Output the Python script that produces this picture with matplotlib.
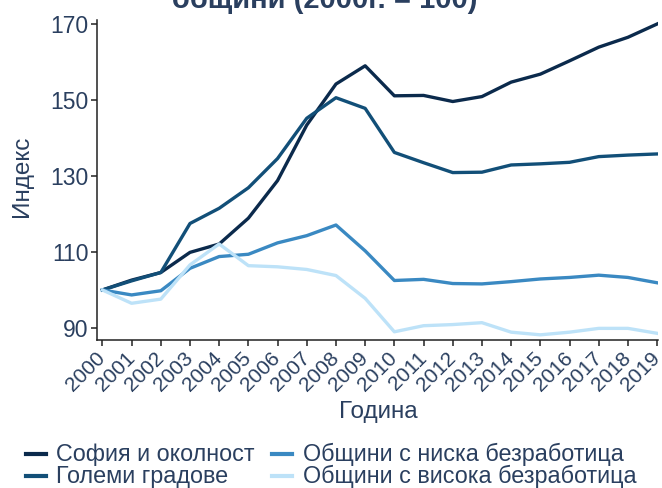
import matplotlib
matplotlib.use("Agg")
import matplotlib.pyplot as plt
from matplotlib.lines import Line2D

years = list(range(2000, 2020))
sofia = [100, 102.6, 104.6, 109.9, 112.1, 118.9, 128.8, 143.4, 154.2, 159.0,
         151.1, 151.2, 149.6, 150.9, 154.7, 156.8, 160.3, 163.9, 166.5, 170.0]
golemi = [100, 102.4, 104.6, 117.5, 121.5, 126.9, 134.6, 145.2, 150.6, 147.8,
          136.2, 133.5, 130.9, 131.0, 132.9, 133.2, 133.6, 135.1, 135.5, 135.8]
niska = [100, 98.7, 99.8, 105.7, 108.8, 109.4, 112.4, 114.3, 117.1, 110.3,
         102.5, 102.8, 101.7, 101.6, 102.2, 102.9, 103.3, 103.9, 103.3, 101.9]
visoka = [100, 96.5, 97.6, 106.6, 112.1, 106.4, 106.1, 105.4, 103.8, 97.8,
          89.0, 90.6, 90.9, 91.4, 88.9, 88.2, 88.9, 89.9, 89.9, 88.6]

names = ["София и околност", "Големи градове", "Общини с ниска безработица", "Общини с висока безработица"]
series = [sofia, golemi, niska, visoka]
colors = ["#0b2a4c", "#124f78", "#3a89c2", "#bde2f8"]
yticks = [90, 110, 130, 150, 170]

plt.rcParams['font.family'] = ['Liberation Sans', 'DejaVu Sans']
txt = "#2a3f5f"
W, H = 662, 488

fig = plt.figure(figsize=(W/100, H/100), dpi=100)
ax = fig.add_axes([97/W, 1-340/H, (658-97)/W, 320/H])
for s, c, n in zip(series, colors, names):
    ax.plot(years, s, color=c, lw=2.4, label=n)

ax.set_xlim(1999.815, 2019.03)
ax.set_ylim(86.84, 171.05)
ax.set_yticks(yticks)
ax.set_xticks(years)
ax.set_xticklabels([str(y) for y in years], rotation=45, ha='right', va='center',
                   rotation_mode='anchor')
for sp in ['top', 'right']:
    ax.spines[sp].set_visible(False)
for sp in ['left', 'bottom']:
    ax.spines[sp].set_color('#222222')
    ax.spines[sp].set_linewidth(1.1)
ax.tick_params(axis='y', labelsize=16.5, colors='#222222', labelcolor=txt, length=4, width=1.1, pad=2)
ax.tick_params(axis='x', labelsize=15, colors='#222222', labelcolor=txt, length=4, width=1.1, pad=7)
ax.set_ylabel("Индекс", fontsize=17.5, color=txt)
ax.yaxis.set_label_coords((22-97)/561, (340-176)/320)
ax.yaxis.label.set_va('center')
ax.set_xlabel("Година", fontsize=17.5, color=txt)
ax.xaxis.set_label_coords((378-97)/561, (340-412)/320)
ax.xaxis.label.set_va('center')

fig.text(325/W, 1-8/H, "общини (2000г. = 100)", fontsize=21, fontweight='bold',
         color=txt, ha='center', va='baseline')

# legend
pos = [(26, 56, 454), (26, 56, 476), (272, 303, 454), (272, 303, 476)]
for (hx, tx, y), c, n in zip(pos, colors, names):
    fig.add_artist(Line2D([hx/W, (hx+20)/W], [1-y/H, 1-y/H], color=c, lw=3,
                          transform=fig.transFigure))
    fig.text(tx/W, 1-y/H, n, fontsize=16.8, color=txt, ha='left', va='center')

fig.savefig("out.png", dpi=100)
